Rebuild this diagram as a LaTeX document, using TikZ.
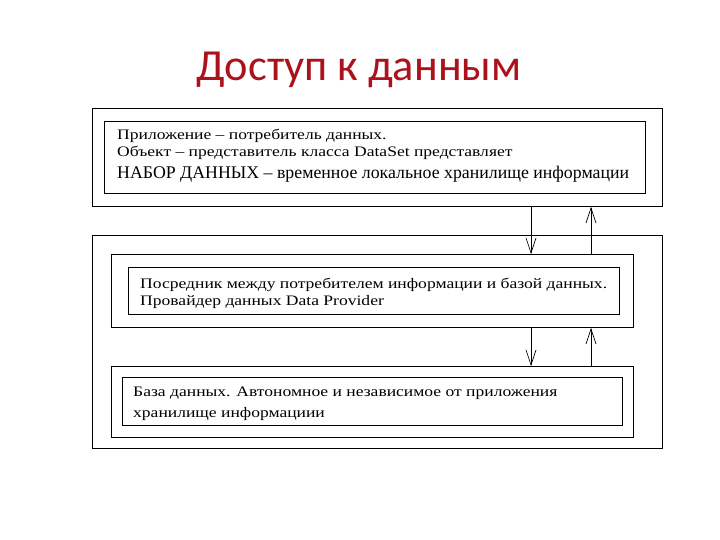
\documentclass[tikz,border=0pt]{standalone}
\usepackage{fontspec}
\setmainfont{Liberation Serif}
\newfontfamily\widefont[FakeStretch=1.21]{Liberation Serif}
\newfontfamily\titlefont{Carlito}
\usetikzlibrary{arrows.meta}
\definecolor{titlered}{RGB}{172,18,28}
\tikzset{
  box/.style={draw=black, line width=0.9pt, anchor=north west, inner sep=0pt},
  txt/.style={anchor=base west, inner sep=0pt, font=\widefont\fontsize{14.5}{16}\selectfont},
  link/.style={draw=black, line width=0.7pt, -{Straight Barb[length=15pt,width=10pt]}}
}
\begin{document}
\begin{tikzpicture}[x=1pt,y=-1pt]
\useasboundingbox (0,0) rectangle (720,540);
% title
\node[anchor=base, inner sep=0pt, text=titlered, font=\titlefont\fontsize{44.4}{48}\selectfont] (title) at (359,81) {Доступ к данным};
% top block
\node[box, minimum width=570, minimum height=98] (outer1) at (92,108) {};
\node[box, minimum width=541, minimum height=72] (inner1) at (104,121) {};
\node[txt] (t1) at (117,140) {Приложение – потребитель данных.};
\node[txt] (t2) at (117,157) {Объект – представитель класса DataSet представляет};
\node[txt, font=\fontsize{17.8}{20}\selectfont] (t3) at (117,179) {НАБОР ДАННЫХ – временное локальное хранилище информации};
% big block
\node[box, minimum width=570, minimum height=213] (outer2) at (92,235) {};
\node[box, minimum width=522, minimum height=73] (mid) at (111,254) {};
\node[box, minimum width=491, minimum height=47] (midin) at (128,267) {};
\node[txt] (t4) at (140,288) {Посредник между потребителем информации и базой данных.};
\node[txt] (t5) at (140,305) {Провайдер данных Data Provider};
\node[box, minimum width=522, minimum height=71] (bot) at (111,366) {};
\node[box, minimum width=500, minimum height=48] (botin) at (122,377) {};
\node[txt] (t6) at (133,396) {База данных. Автономное и независимое от приложения};
\node[txt] (t7) at (133,417) {хранилище информациии};
% arrow columns
\coordinate (dn) at (531,0);
\coordinate (up) at (591,0);
\draw[link] (outer1.south -| dn) -- (mid.north -| dn);
\draw[link] (mid.north -| up) -- (outer1.south -| up);
\draw[link] (mid.south -| dn) -- (bot.north -| dn);
\draw[link] (bot.north -| up) -- (mid.south -| up);
\end{tikzpicture}
\end{document}
